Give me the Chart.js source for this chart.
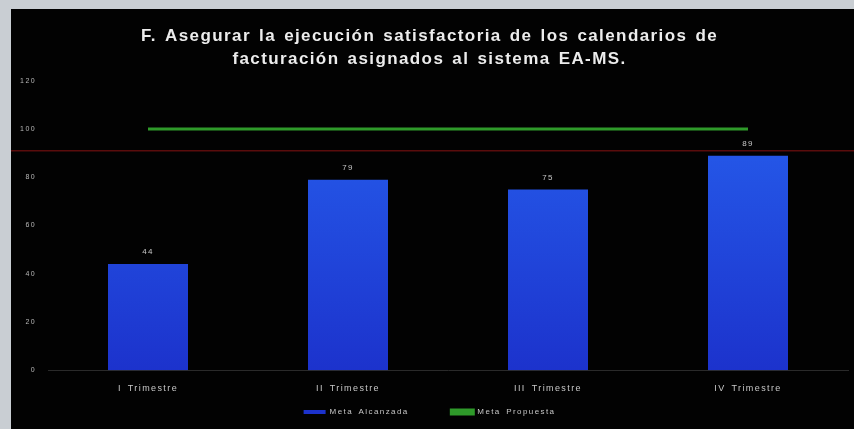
<!DOCTYPE html>
<html>
<head>
<meta charset="utf-8">
<script src="https://cdn.jsdelivr.net/npm/chart.js@4"></script>
<style>
  html, body { margin: 0; padding: 0; }
  body { width: 854px; height: 429px; background: #c9ced3; position: relative; overflow: hidden; }
  #wrap { position: absolute; left: 11px; top: 9px; width: 843px; height: 420px; background: #020202; }
</style>
</head>
<body>
<div id="wrap"><canvas id="chart" width="843" height="420"></canvas></div>
<script>
// Datos del gráfico
const trimestres = ['I Trimestre', 'II Trimestre', 'III Trimestre', 'IV Trimestre'];
const metaAlcanzada = [44, 79, 75, 89];
const metaPropuesta = [100, 100, 100, 100];
const yTicks = [0, 20, 40, 60, 80, 100, 120];
const lineaRoja = 91;

// texto un poco espaciado, como en la imagen original
function espaciado(chart) {
  chart.ctx.letterSpacing = '1.4px';
  chart.ctx.wordSpacing = '2px';
}

// etiquetas encima de las barras + linea roja horizontal
const extras = {
  id: 'extras',
  beforeLayout: espaciado,
  beforeDraw: espaciado,
  afterDatasetsDraw(chart) {
    const ctx = chart.ctx;
    const y = chart.scales.y;
    ctx.save();
    ctx.strokeStyle = '#5a0c0c';
    ctx.lineWidth = 1.5;
    ctx.beginPath();
    ctx.moveTo(0, y.getPixelForValue(lineaRoja));
    ctx.lineTo(chart.width, y.getPixelForValue(lineaRoja));
    ctx.stroke();
    const meta = chart.getDatasetMeta(0);
    ctx.fillStyle = '#c8c8c8';
    ctx.font = '8px "Liberation Sans", sans-serif';
    ctx.textAlign = 'center';
    ctx.textBaseline = 'bottom';
    meta.data.forEach((bar, i) => {
      ctx.fillText(metaAlcanzada[i], bar.x, bar.y - 8);
    });
    ctx.restore();
  }
};

const ctx = document.getElementById('chart').getContext('2d');
const grad = ctx.createLinearGradient(0, 150, 0, 365);
grad.addColorStop(0, '#2455e6');
grad.addColorStop(1, '#1c32cc');

new Chart(ctx, {
  type: 'bar',
  data: {
    labels: trimestres,
    datasets: [{
      // espacios finales: separación entre las entradas de la leyenda
      label: 'Meta Alcanzada\u00a0\u00a0\u00a0\u00a0\u00a0\u00a0',
      data: metaAlcanzada,
      backgroundColor: grad,
      barPercentage: 0.8,
      categoryPercentage: 0.5,
      order: 2
    }, {
      type: 'line',
      label: 'Meta Propuesta',
      data: metaPropuesta,
      borderColor: '#2f9a2a',
      backgroundColor: '#2f9a2a',
      borderWidth: 3,
      pointRadius: 0,
      order: 1
    }]
  },
  options: {
    responsive: false,
    animation: false,
    layout: { padding: { left: 0, right: 6, top: 0, bottom: 3 } },
    plugins: {
      title: {
        display: true,
        text: ['F. Asegurar la ejecución satisfactoria de los calendarios de',
               'facturación asignados al sistema EA-MS.'],
        color: '#ececec',
        font: { family: '"Liberation Sans", sans-serif', size: 17, weight: 'bold', lineHeight: 1.35 },
        padding: { top: 16, bottom: 10 }
      },
      legend: {
        position: 'bottom',
        labels: {
          color: '#c8c8c8',
          font: { family: '"Liberation Sans", sans-serif', size: 8 },
          boxWidth: 22,
          boxHeight: 4,
          padding: 9,
          sort: (a, b) => a.datasetIndex - b.datasetIndex
        }
      },
      tooltip: { enabled: false }
    },
    scales: {
      x: {
        grid: { display: false },
        border: { display: true, color: '#2a2a2a' },
        ticks: { color: '#c8c8c8', padding: 5, font: { family: '"Liberation Sans", sans-serif', size: 9 } }
      },
      y: {
        min: 0,
        max: 120,
        afterBuildTicks(scale) { scale.ticks = yTicks.map(v => ({ value: v })); },
        afterFit(scale) { scale.width = 37; },
        grid: { display: false },
        border: { display: false },
        ticks: { color: '#b8b8b8', padding: 4, font: { family: '"Liberation Sans", sans-serif', size: 7 } }
      }
    }
  },
  plugins: [extras]
});
</script>
</body>
</html>
